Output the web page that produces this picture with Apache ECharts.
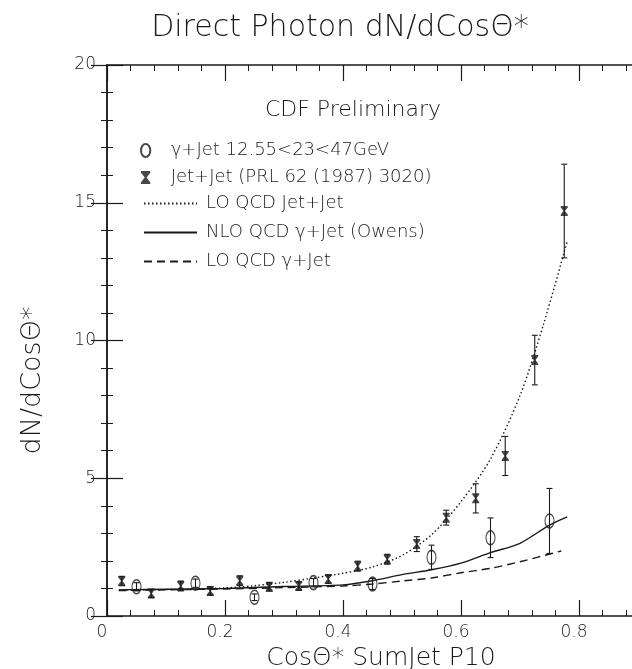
<!DOCTYPE html>
<html>
<head>
<meta charset="utf-8">
<script src="https://cdn.jsdelivr.net/npm/echarts@6/dist/echarts.min.js"></script>
<style>
html,body{margin:0;padding:0;background:#fff;}
#chart{width:632px;height:669px;}
</style>
</head>
<body>
<div id="chart"></div>
<script>
// ---- data ----
const gammaX   = [0.05, 0.15, 0.25, 0.35, 0.45, 0.55, 0.65, 0.75];
const gammaY   = [1.06, 1.19, 0.68, 1.21, 1.16, 2.13, 2.84, 3.45];
const gammaErr = [0.15, 0.15, 0.12, 0.15, 0.20, 0.44, 0.72, 1.18];

const jetX   = [0.025, 0.075, 0.125, 0.175, 0.225, 0.275, 0.325, 0.375, 0.425, 0.475, 0.525, 0.575, 0.625, 0.675, 0.725, 0.775];
const jetY   = [1.27, 0.82, 1.09, 0.91, 1.28, 1.06, 1.09, 1.34, 1.81, 2.06, 2.61, 3.57, 4.27, 5.81, 9.29, 14.7];
const jetErr = [0.17, 0.15, 0.18, 0.15, 0.18, 0.15, 0.15, 0.15, 0.18, 0.18, 0.27, 0.27, 0.53, 0.71, 0.90, 1.70];

const loJetX = [0.02, 0.10, 0.20, 0.25, 0.30, 0.35, 0.40, 0.45, 0.50, 0.55, 0.60, 0.65, 0.70, 0.74, 0.78];
const loJetY = [0.95, 0.96, 1.02, 1.10, 1.22, 1.38, 1.55, 1.78, 2.20, 2.95, 4.15, 5.70, 8.00, 10.6, 13.6];

const nloGamX = [0.02, 0.10, 0.20, 0.30, 0.40, 0.45, 0.50, 0.55, 0.60, 0.65, 0.70, 0.75, 0.78];
const nloGamY = [0.95, 0.97, 1.00, 1.07, 1.13, 1.28, 1.50, 1.68, 1.92, 2.30, 2.64, 3.30, 3.60];

const loGamX = [0.02, 0.10, 0.20, 0.30, 0.40, 0.45, 0.50, 0.55, 0.60, 0.65, 0.70, 0.77];
const loGamY = [0.92, 0.95, 0.98, 1.03, 1.09, 1.16, 1.27, 1.38, 1.57, 1.73, 1.97, 2.36];

const xTicks = [0, 0.2, 0.4, 0.6, 0.8];
const yTicks = [0, 5, 10, 15, 20];

const names = {
  gamma: 'γ+Jet 12.55<23<47GeV',
  jet: 'Jet+Jet (PRL 62 (1987) 3020)',
  loJet: 'LO QCD Jet+Jet',
  nloGam: 'NLO QCD γ+Jet (Owens)',
  loGam: 'LO QCD γ+Jet'
};

// ---- chart ----
const INK = '#1a1a1a';
const FONT = 'DejaVu Sans';
const LIGHT = 200;
const zip = (a, b) => a.map((v, i) => [v, b[i]]);
const errData = (x, y, e) => x.map((v, i) => [v, y[i] - e[i], y[i] + e[i]]);

function errRender(params, api) {
  const x = api.value(0);
  const lo = api.coord([x, api.value(1)]);
  const hi = api.coord([x, api.value(2)]);
  const cw = 3;
  const st = { stroke: INK, lineWidth: 1.1 };
  return {
    type: 'group',
    children: [
      { type: 'line', shape: { x1: lo[0], y1: lo[1], x2: hi[0], y2: hi[1] }, style: st },
      { type: 'line', shape: { x1: lo[0] - cw, y1: lo[1], x2: lo[0] + cw, y2: lo[1] }, style: st },
      { type: 'line', shape: { x1: hi[0] - cw, y1: hi[1], x2: hi[0] + cw, y2: hi[1] }, style: st }
    ]
  };
}

const ellipse = 'path://M5,0 A5,7 0 1,1 5,14 A5,7 0 1,1 5,0 Z';
const hourglass = 'path://M0,0 L10,0 L10,2 L6,7 L10,12 L10,14 L0,14 L0,12 L4,7 L0,2 Z';

const chart = echarts.init(document.getElementById('chart'), null, { renderer: 'canvas' });

const axisCommon = {
  axisLine: { show: true, lineStyle: { color: INK, width: 1.5 } },
  axisTick: { show: true, inside: true, length: 16, lineStyle: { color: INK, width: 1.2 } },
  minorTick: { show: true, splitNumber: 5, length: 6, lineStyle: { color: INK, width: 1 } },
  splitLine: { show: false }
};

chart.setOption({
  backgroundColor: '#fff',
  animation: false,
  title: [
    {
      text: 'Direct Photon dN/dCosΘ*',
      left: 335, top: 8, textAlign: 'center',
      textStyle: { fontFamily: FONT, fontSize: 30, fontWeight: LIGHT, color: INK }
    },
    {
      text: 'CDF Preliminary',
      left: 348, top: 94, textAlign: 'center',
      textStyle: { fontFamily: FONT, fontSize: 22, fontWeight: LIGHT, color: INK }
    }
  ],
  grid: [
    { left: 107, right: -65, top: 65, bottom: 53, containLabel: false, outerBoundsMode: 'none' },
    { left: 107, right: -6, top: 65, bottom: 53, containLabel: false, outerBoundsMode: 'none' }
  ],
  legend: [
    {
      data: [names.gamma, names.jet],
      orient: 'vertical', left: 140, top: 141, padding: 0,
      itemWidth: 14, itemHeight: 13, itemGap: 8,
      textStyle: { fontFamily: FONT, fontSize: 18, fontWeight: LIGHT, color: INK, lineHeight: 19, padding: [0, 0, 0, 13] },
      selectedMode: false
    },
    {
      data: [names.loJet, names.nloGam, names.loGam],
      orient: 'vertical', left: 143, top: 194, padding: 0,
      itemWidth: 53, itemHeight: 14, itemGap: 10,
      itemStyle: { opacity: 0 },
      textStyle: { fontFamily: FONT, fontSize: 18, fontWeight: LIGHT, color: INK, lineHeight: 19, padding: [0, 0, 0, 4] },
      selectedMode: false
    }
  ],
  xAxis: [
    Object.assign({}, axisCommon, {
      type: 'value', gridIndex: 0, position: 'bottom', min: 0, max: 1.0, interval: 0.2,
      axisLabel: {
        show: true, margin: 8, fontFamily: FONT, fontSize: 17, fontWeight: LIGHT, color: INK,
        padding: [0, 10, 0, 0],
        formatter: v => (xTicks.indexOf(+v.toFixed(1)) >= 0 ? String(+v.toFixed(1)) : '')
      },
      name: 'CosΘ* SumJet P10', nameLocation: 'middle', nameGap: 27,
      nameTextStyle: { fontFamily: FONT, fontSize: 25, fontWeight: LIGHT, color: INK, padding: [0, 42, 0, 0] }
    }),
    Object.assign({}, axisCommon, {
      type: 'value', gridIndex: 0, position: 'top', min: 0, max: 1.0, interval: 0.2,
      axisLabel: { show: false }
    }),
    {
      type: 'value', gridIndex: 1, show: false, min: 0, max: 1.0
    }
  ],
  yAxis: [
    Object.assign({}, axisCommon, {
      type: 'value', gridIndex: 0, position: 'left', min: 0, max: 20, interval: 5,
      axisLabel: {
        show: true, margin: 11, fontFamily: FONT, fontSize: 17, fontWeight: LIGHT, color: INK,
        formatter: v => (yTicks.indexOf(v) >= 0 ? String(v) : '')
      },
      name: 'dN/dCosΘ*', nameLocation: 'middle', nameGap: 61,
      nameTextStyle: { fontFamily: FONT, fontSize: 27, fontWeight: LIGHT, color: INK, padding: [0, 80, 0, 0] }
    }),
    Object.assign({}, axisCommon, {
      type: 'value', gridIndex: 1, position: 'right', min: 0, max: 20, interval: 5,
      axisLabel: { show: false }
    })
  ],
  series: [
    {
      name: names.loJet, type: 'line', smooth: 0.3, symbol: 'none',
      data: zip(loJetX, loJetY),
      lineStyle: { color: INK, width: 1.4, type: [1.5, 2.5] }, itemStyle: { color: INK }
    },
    {
      name: names.nloGam, type: 'line', smooth: 0.3, symbol: 'none',
      data: zip(nloGamX, nloGamY),
      lineStyle: { color: INK, width: 1.4, type: 'solid' }, itemStyle: { color: INK }
    },
    {
      name: names.loGam, type: 'line', smooth: 0.3, symbol: 'none',
      data: zip(loGamX, loGamY),
      lineStyle: { color: INK, width: 1.4, type: [8, 5] }, itemStyle: { color: INK }
    },
    {
      name: 'gammaErr', type: 'custom', renderItem: errRender,
      data: errData(gammaX, gammaY, gammaErr), z: 3
    },
    {
      name: 'jetErr', type: 'custom', renderItem: errRender,
      data: errData(jetX, jetY, jetErr), z: 3
    },
    {
      name: names.gamma, type: 'scatter', symbol: ellipse, symbolSize: [9, 14],
      data: zip(gammaX, gammaY), z: 4,
      itemStyle: { color: 'rgba(255,255,255,0)', borderColor: INK, borderWidth: 1.3 }
    },
    {
      name: names.jet, type: 'scatter', symbol: hourglass, symbolSize: [7, 10],
      data: zip(jetX, jetY), z: 4,
      itemStyle: { color: INK }
    }
  ]
});
</script>
</body>
</html>
